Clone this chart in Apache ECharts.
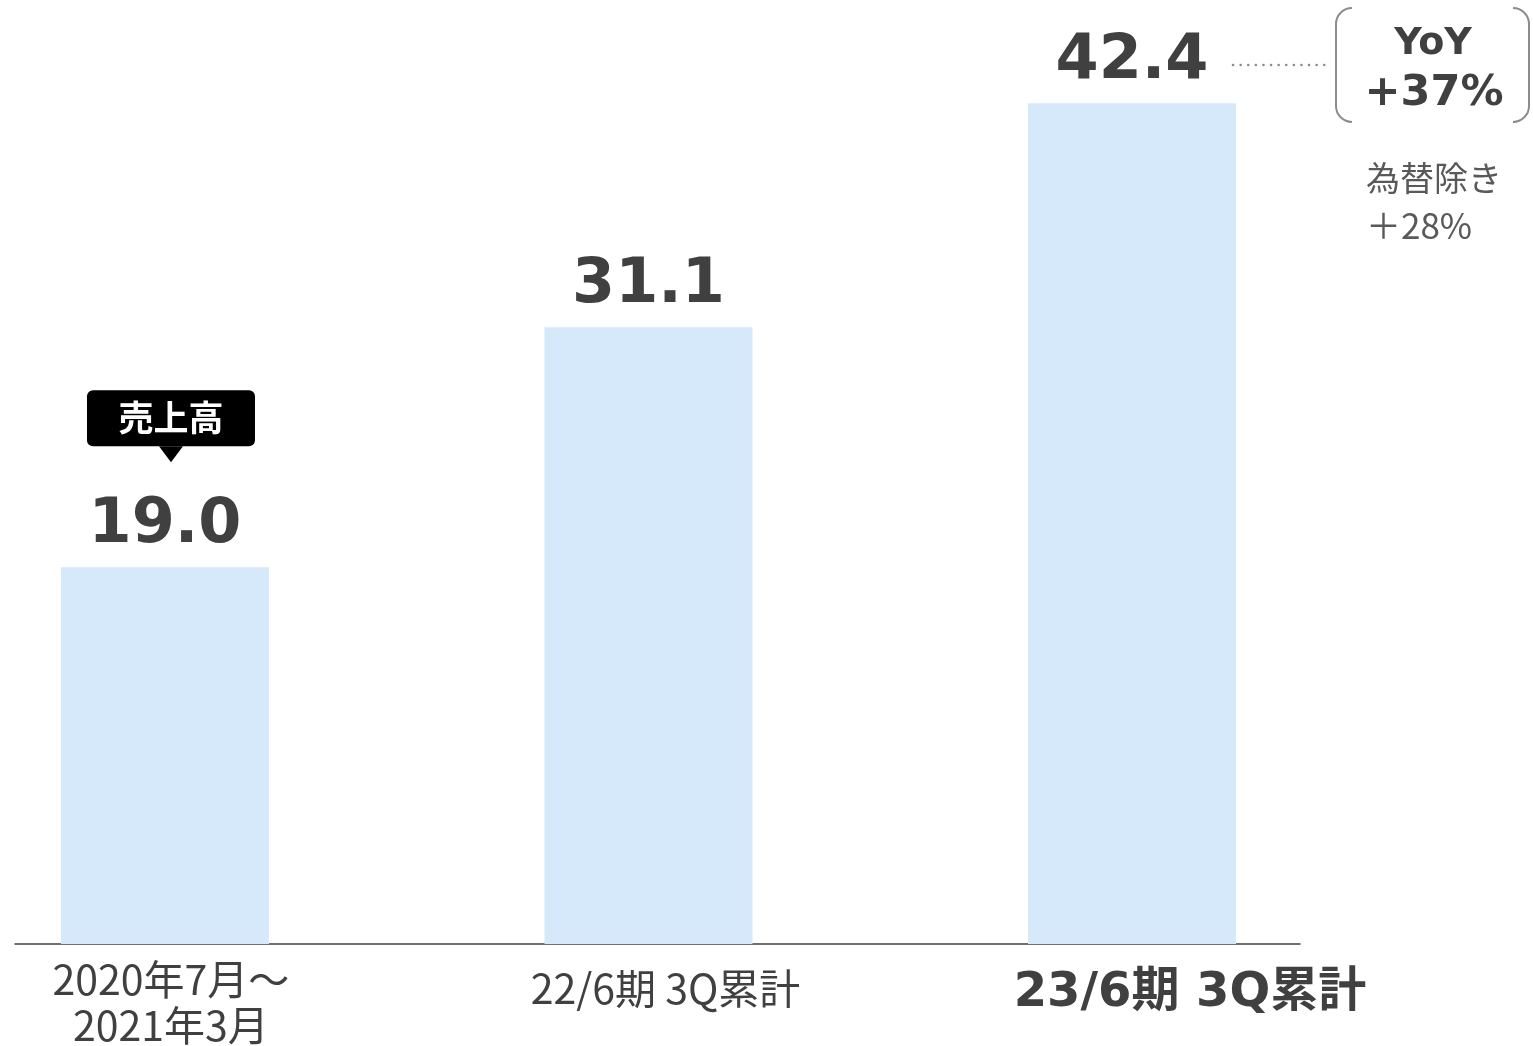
<!DOCTYPE html>
<html lang="ja" style="height: 100%">
<head>
    <meta charset="UTF-8" />
    <title>売上高</title>
    <style>
        html, body { margin: 0; padding: 0; background: #fff; }
        #container { width: 1533px; height: 1046px; }
    </style>
</head>
<body>
    <div id="container"></div>
    <script src="https://cdn.jsdelivr.net/npm/echarts@6/dist/echarts.min.js"></script>
    <script type="text/javascript">
        // data
        var categories = ['2020年7月～\n2021年3月', '22/6期 3Q累計', '23/6期 3Q累計'];
        var sales = [19.0, 31.1, 42.4];
        var badgeText = '売上高';
        var yoyText = ['YoY', '+37%'];
        var fxText = ['為替除き', '＋28%'];

        var textColor = '#404040';
        var subColor = '#595959';
        var lineGray = '#8c8c8c';

        // bars sit at x = 0,1,2 on a value axis so the baseline can run past them
        var barData = sales.map(function (v, i) { return [i, v]; });

        var myChart = echarts.init(document.getElementById('container'));

        var option = {
            animation: false,
            backgroundColor: '#fff',
            grid: { left: 15, right: 233, top: 0, bottom: 102, outerBoundsMode: 'none', containLabel: false },
            xAxis: {
                type: 'value',
                min: -0.3102,
                max: 2.3475,
                axisLine: { show: true, lineStyle: { color: textColor, width: 1.5 } },
                axisTick: { show: false },
                splitLine: { show: false },
                axisLabel: {
                    show: true,
                    customValues: [0, 1, 2],
                    margin: 12,
                    fontFamily: 'Noto Sans CJK JP',
                    formatter: function (v) {
                        var i = Math.round(v);
                        var s = categories[i];
                        if (i === 0) {
                            return s.split('\n').map(function (t) { return '{a|' + t + '}'; }).join('\n');
                        }
                        if (i === 1) return '{b|' + s + '}';
                        return '{c|' + s + '}';
                    },
                    rich: {
                        a: { fontSize: 41, lineHeight: 46, color: textColor, fontFamily: 'Noto Sans CJK JP', padding: [0, 0, 0, 12] },
                        b: { fontSize: 41, lineHeight: 64, color: textColor, fontFamily: 'Noto Sans CJK JP', padding: [0, 0, 0, 34] },
                        c: { fontSize: 48, lineHeight: 76, color: textColor, fontWeight: 'bold', fontFamily: '"DejaVu Sans", "Noto Sans CJK JP"', padding: [0, 0, 0, 116] }
                    }
                }
            },
            yAxis: { type: 'value', min: 0, max: 47.6, show: false },
            series: [{
                name: badgeText,
                type: 'bar',
                data: barData,
                barWidth: 208,
                itemStyle: { color: '#D6E9FB' },
                label: {
                    show: true,
                    position: 'top',
                    distance: 10,
                    fontSize: 62,
                    fontWeight: 'bold',
                    fontFamily: 'DejaVu Sans',
                    color: textColor,
                    formatter: function (p) { return p.value[1].toFixed(1); }
                },
                markPoint: {
                    silent: true,
                    data: [{
                        coord: barData[0],
                        symbol: 'rect',
                        symbolSize: [0, 0],
                        label: {
                            show: true,
                            position: 'inside',
                            offset: [6, -149],
                            formatter: badgeText,
                            color: '#fff',
                            fontSize: 35,
                            fontWeight: 'bold',
                            fontFamily: 'Noto Sans CJK JP',
                            backgroundColor: '#000',
                            borderRadius: 6,
                            width: 168,
                            height: 56,
                            lineHeight: 56,
                            align: 'center',
                            verticalAlign: 'middle'
                        }
                    }, {
                        coord: barData[0],
                        symbol: 'triangle',
                        symbolRotate: 180,
                        symbolSize: [24, 16],
                        symbolOffset: [6, -113],
                        itemStyle: { color: '#000' },
                        label: { show: false }
                    }]
                }
            }],
            graphic: [
                {
                    type: 'line',
                    shape: { x1: 1233, y1: 65, x2: 1325, y2: 65 },
                    style: { stroke: lineGray, lineWidth: 2.5, lineDash: [0.1, 7.5], lineCap: 'round' }
                },
                {
                    type: 'rect',
                    shape: { x: 1336, y: 8, width: 193, height: 114, r: 16 },
                    style: { fill: null, stroke: lineGray, lineWidth: 2 }
                },
                {
                    type: 'rect',
                    shape: { x: 1352, y: 0, width: 161, height: 16 },
                    style: { fill: '#fff' }
                },
                {
                    type: 'rect',
                    shape: { x: 1352, y: 114, width: 161, height: 16 },
                    style: { fill: '#fff' }
                },
                {
                    type: 'text',
                    x: 1433, y: 44,
                    style: {
                        text: yoyText[0], fill: textColor, font: 'bold 38px "DejaVu Sans"',
                        textAlign: 'center', textVerticalAlign: 'middle'
                    }
                },
                {
                    type: 'text',
                    x: 1434, y: 94,
                    style: {
                        text: yoyText[1], fill: textColor, font: 'bold 43px "DejaVu Sans"',
                        textAlign: 'center', textVerticalAlign: 'middle'
                    }
                },
                {
                    type: 'text',
                    x: 1434, y: 178,
                    style: {
                        text: fxText[0], fill: subColor, font: '34px "Noto Sans CJK JP"',
                        textAlign: 'center', textVerticalAlign: 'middle'
                    }
                },
                {
                    type: 'text',
                    x: 1366, y: 226,
                    style: {
                        text: fxText[1], fill: subColor, font: '35px "Noto Sans CJK JP"',
                        textAlign: 'left', textVerticalAlign: 'middle'
                    }
                }
            ]
        };

        myChart.setOption(option, true);
    </script>
</body>
</html>
